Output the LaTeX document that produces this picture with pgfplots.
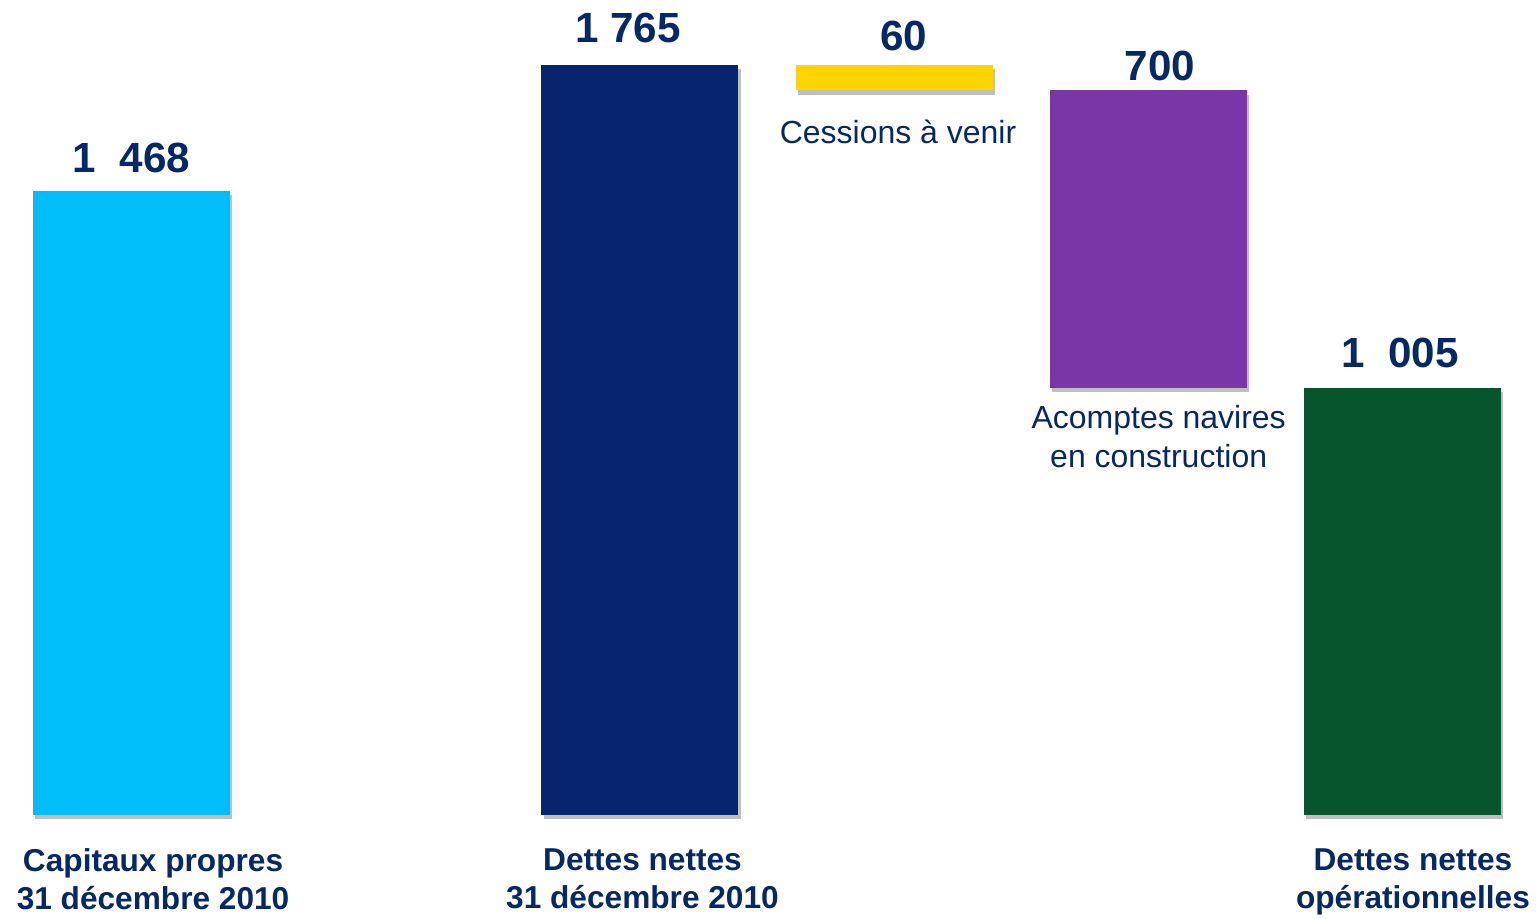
\documentclass[border=0pt]{standalone}
\usepackage{pgfplots}
\pgfplotsset{compat=1.18}
\usetikzlibrary{shadows}
\usepackage{fontspec}
\setmainfont{Liberation Sans}
\definecolor{txt}{RGB}{4,40,104}
\definecolor{cyanbar}{RGB}{0,190,250}
\definecolor{navybar}{RGB}{7,36,110}
\definecolor{goldbar}{RGB}{255,212,0}
\definecolor{purplebar}{RGB}{122,53,168}
\definecolor{greenbar}{RGB}{7,85,45}
\tikzset{
  val/.style={text=txt, inner sep=0pt, anchor=base, font=\fontsize{12}{14}\selectfont\bfseries},
  note/.style={text=txt, inner sep=0pt, align=center, font=\fontsize{9.1}{11}\selectfont},
  cat/.style={text=txt, inner sep=0pt, align=center, anchor=north, font=\fontsize{9}{10.9}\selectfont\bfseries},
  shad/.style={drop shadow={shadow xshift=0.6pt, shadow yshift=-1.2pt, opacity=0.25, fill=black}},
}
\begin{document}
\begin{tikzpicture}
\begin{axis}[
    width=15.37cm, height=9.19cm, scale only axis,
    xmin=-0.517, xmax=5.528, ymin=-245, ymax=1918,
    hide axis, clip=false,
    ybar stacked, bar width=1.97cm,
]
% invisible base for the floating bars
\addplot[draw=none, fill=none] coordinates {(0,0) (2,0) (3,1705) (4,1005) (5,0)};
\addplot[draw=none, fill=cyanbar, shad] coordinates {(0,1468) (2,0) (3,0) (4,0) (5,0)};
\addplot[draw=none, fill=navybar, shad] coordinates {(0,0) (2,1765) (3,0) (4,0) (5,0)};
\addplot[draw=none, fill=goldbar, shad] coordinates {(0,0) (2,0) (3,60) (4,0) (5,0)};
\addplot[draw=none, fill=purplebar, shad] coordinates {(0,0) (2,0) (3,0) (4,700) (5,0)};
\addplot[draw=none, fill=greenbar, shad] coordinates {(0,0) (2,0) (3,0) (4,0) (5,1005)};

% values
\node[val] at (axis cs:0,1513) {1\ \ 468};
\node[val] at (axis cs:1.953,1819) {1 765};
\node[val] at (axis cs:3.038,1800) {60};
\node[val] at (axis cs:4.045,1729) {700};
\node[val] at (axis cs:4.989,1052) {1\ \ 005};

% annotations
\node[note, anchor=base] at (axis cs:3.015,1581) {Cessions à venir};
\node[note, anchor=north] at (axis cs:4.04,965) {Acomptes navires\\en construction};

% categories
\node[cat] at (axis cs:0.085,-77) {Capitaux propres\\31 décembre 2010};
\node[cat] at (axis cs:2.01,-77) {Dettes nettes\\31 décembre 2010};
\node[cat] at (axis cs:5.04,-77) {Dettes nettes\\opérationnelles};

\coordinate (bl) at (rel axis cs:0,0);
\coordinate (tr) at (rel axis cs:1,1);
\end{axis}
\pgfresetboundingbox
\path[use as bounding box] (bl) rectangle (tr);
\end{tikzpicture}
\end{document}
